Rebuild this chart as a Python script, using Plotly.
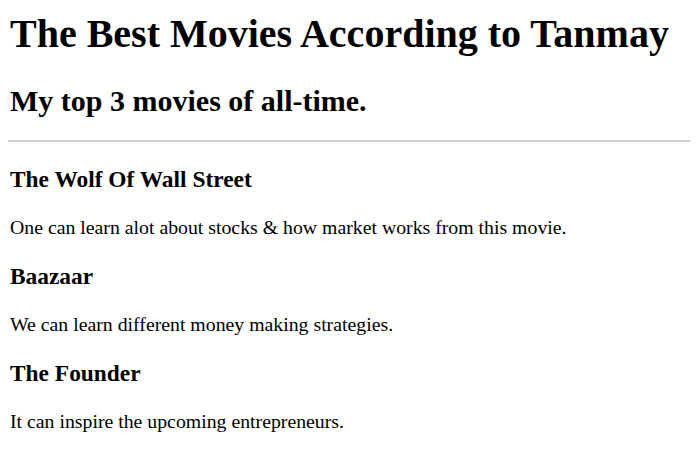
import plotly.graph_objects as go

page_title = "The Best Movies According to Tanmay"
subtitle = "My top 3 movies of all-time."
movies = ["The Wolf Of Wall Street", "Baazaar", "The Founder"]
reasons = [
    "One can learn alot about stocks & how market works from this movie.",
    "We can learn different money making strategies.",
    "It can inspire the upcoming entrepreneurs.",
]

W, H = 698, 453
serif = "Liberation Serif, Times New Roman, serif"
dy = -8  # page offset in the photographed view

fig = go.Figure()
fig.add_trace(go.Scatter(x=[0], y=[0], mode="markers", marker=dict(opacity=0),
                         hoverinfo="skip", showlegend=False))


def text(y, s, size, bold=False):
    fig.add_annotation(x=0, y=y + dy, xref="x", yref="y", text="<b>%s</b>" % s if bold else s,
                       showarrow=False, xanchor="left", yanchor="middle",
                       font=dict(family=serif, size=size, color="black"))


text(33, page_title, 40, True)
text(100, subtitle, 30, True)
fig.add_shape(type="line", x0=0, x1=1.2, y0=141 + dy, y1=141 + dy, xref="paper", yref="y",
              line=dict(color="#a0a0a0", width=1))
for i, (m, r) in enumerate(zip(movies, reasons)):
    text(179 + 97 * i, m, 23.4, True)
    text(227 + 97 * i, r, 19.8)

fig.update_layout(width=W, height=H, margin=dict(l=0, r=0, t=0, b=0),
                  paper_bgcolor="white", plot_bgcolor="white",
                  xaxis=dict(range=[0, W], visible=False, fixedrange=True),
                  yaxis=dict(range=[H, 0], visible=False, fixedrange=True))
fig.write_html("out.html")
